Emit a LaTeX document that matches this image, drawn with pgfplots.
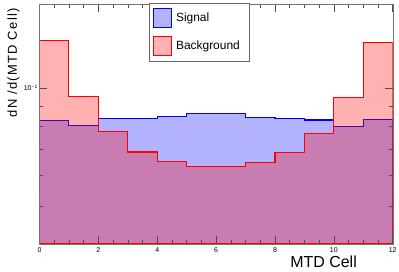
\documentclass[border=0pt]{standalone}
\usepackage{fontspec}
\setmainfont{Liberation Sans}
\usepackage{pgfplots}
\pgfplotsset{compat=1.18}
\begin{document}
\begin{tikzpicture}
\begin{axis}[
  scale only axis,
  width=353.2bp, height=240bp,
  xmin=0, xmax=12,
  ymode=log, ymin=0.04, ymax=0.164,
  log origin=infty,
  axis on top,
  axis line style={black!55},
  tick style={black!70, line width=0.6pt},
  major tick length=8bp, minor tick length=4bp,
  tick align=inside,
  xtick={0,2,...,12},
  minor xtick={0.5,1,...,11.5},
  ytick={0.1},
  yticklabels={10\raisebox{0.55ex}{\fontsize{5}{5}\selectfont −1}},
  minor ytick={0.05,0.06,0.07,0.08,0.09},
  /pgf/number format/assume math mode=true,
  xticklabel style={font=\fontsize{7}{7}\selectfont, inner sep=0pt, yshift=-3bp},
  yticklabel style={font=\fontsize{7}{7}\selectfont, inner sep=0pt, xshift=-2bp},
  xlabel={MTD Cell},
  xlabel style={at={(axis description cs:0.899,0)}, anchor=base east, yshift=-23bp, font=\fontsize{16}{16}\selectfont, inner sep=0pt},
  ylabel={dN /d(MTD Cell)},
  ylabel style={at={(axis description cs:-0.0637,0.983)}, anchor=base east, rotate=0, font=\fontsize{13}{13}\selectfont\addfontfeature{LetterSpace=10}, inner sep=0pt},
  legend style={at={(axis description cs:0.311,1.004)}, anchor=north west,
    draw=black!60, fill=white, inner xsep=3.4bp, inner ysep=4.5bp,
    row sep=7.6bp, column sep=4bp,
    nodes={inner sep=0pt, font=\fontsize{12}{14}\selectfont, anchor=west}},
  legend image code/.code={\draw[#1, fill opacity=0.3] (0bp,-9.7bp) rectangle (18bp,9.7bp);},
]
\addplot[const plot, draw=blue, line width=1.1pt, fill=blue, fill opacity=0.3] coordinates {
  (0,0.0827) (1,0.0801) (2,0.0835) (3,0.0837) (4,0.0845) (5,0.0862)
  (6,0.0862) (7,0.0842) (8,0.0837) (9,0.0829) (10,0.0800) (11,0.0833) (12,0.0833)
} \closedcycle;
\addlegendentry{\makebox[70bp][l]{Signal}}
\addplot[const plot, draw=red, line width=1.1pt, fill=red, fill opacity=0.3] coordinates {
  (0,0.1323) (1,0.0954) (2,0.0774) (3,0.0687) (4,0.0649) (5,0.0630)
  (6,0.0630) (7,0.0645) (8,0.0685) (9,0.0766) (10,0.0945) (11,0.1308) (12,0.1308)
} \closedcycle;
\addlegendentry{Background}
\end{axis}
\pgfresetboundingbox
\path ([shift={(-39.5bp,-28bp)}]current axis.south west) rectangle ([shift={(6.3bp,4bp)}]current axis.north east);
\end{tikzpicture}
\end{document}
